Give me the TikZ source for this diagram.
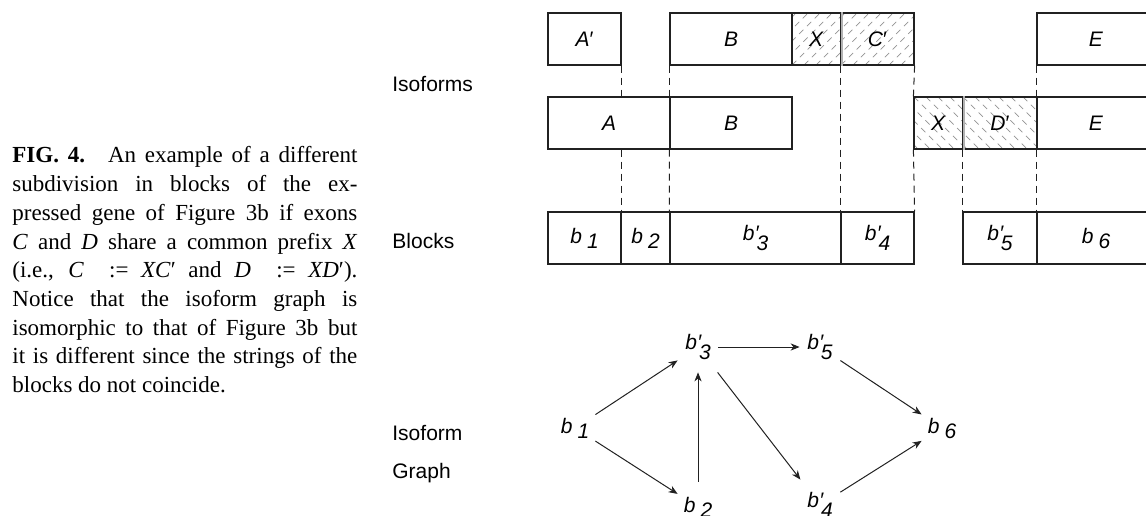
\documentclass[tikz,border=0pt]{standalone}
\usepackage{fontspec}
\setmainfont{Liberation Serif}
\setsansfont{Liberation Sans}
\usetikzlibrary{arrows.meta}

\definecolor{ink}{gray}{0.13}
\newcommand\lbl{\sffamily\fontsize{10.5bp}{12bp}\selectfont}
% block names: b with a lowered index, optionally primed
\newcommand\bsub[1]{\textit{b}\hspace{2.5bp}\raisebox{-2.5bp}{\textit{#1}}}
\newcommand\bpsub[1]{\textit{b}\rlap{\hspace{0.2bp}\textit{′}}\hspace{1bp}\raisebox{-5.3bp}{\textit{#1}}}
\newcommand\capline[1]{\makebox[\linewidth][s]{#1}}
% a box given by two corners (in pixel units): [options]{name}{x1}{y1}{x2}{y2}{text}
\newcommand\segbox[7][]{%
  \pgfmathsetmacro\segcx{(#3+#5)/2}%
  \pgfmathsetmacro\segcy{(#4+#6)/2}%
  \pgfmathsetmacro\segw{(#5-#3)*0.5}%
  \pgfmathsetmacro\segh{(#6-#4)*0.5}%
  \node[exon, minimum width=\segw bp, minimum height=\segh bp, #1] (#2) at (\segcx,\segcy) {#7};}

\tikzset{
  exon/.style={draw=ink, line width=0.6bp, inner sep=0pt, font=\lbl},
  hatchline/.style={draw=gray!85, line width=0.35bp, dash pattern=on 3bp off 2.5bp},
  hatchNE/.style={path picture={\foreach \k in {0,...,15}{\draw[hatchline] ([xshift=\k*6bp-30bp]path picture bounding box.south west) -- ++(70,-70);}}},
  hatchNW/.style={path picture={\foreach \k in {0,...,15}{\draw[hatchline] ([xshift=\k*6bp-30bp]path picture bounding box.north west) -- ++(70,70);}}},
  seam/.style={draw=gray!60, line width=0.9bp},
  guide/.style={draw=ink, line width=0.5bp, dash pattern=on 3.5bp off 2.5bp},
  rowlabel/.style={anchor=base west, inner sep=0pt, font=\lbl},
  gnode/.style={rectangle, minimum width=20bp, minimum height=25bp, inner sep=0pt, font=\lbl},
  arr/.style={draw=ink, line width=0.5bp, -{Stealth[length=4.5bp,width=3.6bp,inset=1.4bp]}},
}

\begin{document}
\begin{tikzpicture}[x=0.5bp, y=-0.5bp]
\useasboundingbox (0,0) rectangle (1146,516);

% caption
\node[anchor=base west, inner sep=0pt] (cap) at (12,163) {\parbox[t]{172.5bp}{\fontsize{11.5bp}{14.35bp}\selectfont
\capline{\textbf{FIG. 4.}\hspace{1em}An example of a different}\\
\capline{subdivision in blocks of the ex-}\\
\capline{pressed gene of Figure 3b if exons}\\
\capline{\textit{C} and \textit{D} share a common prefix \textit{X}}\\
\capline{(i.e., \textit{C}\ \ := \textit{XC}′ and \textit{D}\ \ := \textit{XD}′).}\\
\capline{Notice that the isoform graph is}\\
\capline{isomorphic to that of Figure 3b but}\\
\capline{it is different since the strings of the}\\
blocks do not coincide.}};

% row labels
\node[rowlabel] (lIso) at (392,92) {Isoforms};
\node[rowlabel] (lBlk) at (392,249) {Blocks};
\node[rowlabel] (lIG1) at (392,440) {Isoform};
\node[rowlabel] (lIG2) at (392,478) {Graph};

% first isoform
\segbox{r1A}{548}{13}{621}{65}{\textit{A}′}
\segbox{r1B}{670}{13}{792}{65}{\textit{B}}
\segbox[hatchNE]{r1X}{792}{13}{841}{65}{\textit{X}}
\segbox[hatchNE]{r1C}{841}{13}{914}{65}{\textit{C}′}
\segbox{r1E}{1037}{13}{1155}{65}{\textit{E}}
\draw[seam] (r1X.north east) -- (r1X.south east);

% second isoform
\segbox{r2A}{548}{97}{670}{149}{\textit{A}}
\segbox{r2B}{670}{97}{792}{149}{\textit{B}}
\segbox[hatchNW]{r2X}{914}{97}{963}{149}{\textit{X}}
\segbox[hatchNW]{r2D}{963}{97}{1037}{149}{\textit{D}′}
\segbox{r2E}{1037}{97}{1155}{149}{\textit{E}}
\draw[seam] (r2X.north east) -- (r2X.south east);

% blocks
\segbox{k1}{548}{212}{621}{264}{\bsub{1}}
\segbox{k2}{621}{212}{670}{264}{\bsub{2}}
\segbox{k3}{670}{212}{841}{264}{\bpsub{3}}
\segbox{k4}{841}{212}{914}{264}{\bpsub{4}}
\segbox{k5}{963}{212}{1037}{264}{\bpsub{5}}
\segbox{k6}{1037}{212}{1155}{264}{\bsub{6}}

% block boundaries
\draw[guide] (r1A.south east) -- (r1A.south east |- r2A.north);
\draw[guide] (r1A.south east |- r2A.south) -- (k1.north east);
\draw[guide] (r1B.south west) -- (r2B.north west);
\draw[guide] (r2B.south west) -- (k3.north west);
\draw[guide] (r1C.south west) -- (k4.north west);
\draw[guide] (r1C.south east) -- (r2X.north west);
\draw[guide] (r2X.south west) -- (k4.north east);
\draw[guide] (r2D.south west) -- (k5.north west);
\draw[guide] (r1E.south west) -- (r2E.north west);
\draw[guide] (r2E.south west) -- (k6.north west);

% isoform graph
\node[gnode] (g1) at (575,428) {\bsub{1}};
\node[gnode] (g2) at (698,507) {\bsub{2}};
\node[gnode] (g3) at (698,347) {\bpsub{3}};
\node[gnode] (g4) at (820,505) {\bpsub{4}};
\node[gnode] (g5) at (820,347) {\bpsub{5}};
\node[gnode] (g6) at (942,428) {\bsub{6}};
\draw[arr] (g1) -- (g3);
\draw[arr] (g1) -- (g2);
\draw[arr] (g2) -- (g3);
\draw[arr] (g3) -- (g5);
\draw[arr] (g3) -- (g4);
\draw[arr] (g5) -- (g6);
\draw[arr] (g4) -- (g6);
\end{tikzpicture}
\end{document}
